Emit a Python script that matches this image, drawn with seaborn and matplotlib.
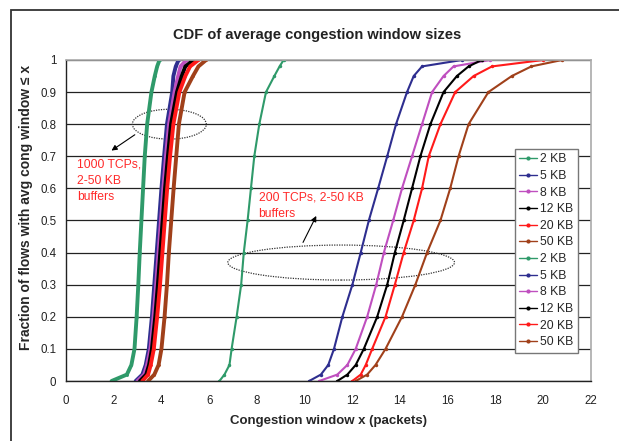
import matplotlib
matplotlib.use("Agg")
import matplotlib.pyplot as plt
from matplotlib.patches import Ellipse, Rectangle
import seaborn as sns
import pandas as pd

sns.set_theme(style="white")
plt.rcParams['font.family'] = ['Liberation Sans', 'DejaVu Sans']

labels = ["2 KB", "5 KB", "8 KB", "12 KB", "20 KB", "50 KB"]
colors = ["#2f9a6a", "#2e2e8f", "#bf4fbf", "#000000", "#ff1a1a", "#a0401a"]

# CDF levels (fraction of flows) at which quantiles were read
levels = [0, 0.02, 0.05, 0.1, 0.2, 0.3, 0.4, 0.5, 0.6, 0.7, 0.8, 0.9, 0.95, 0.98, 1.0]

# 1000 TCPs group
big_2kb = [1.91, 2.55, 2.74, 2.87, 2.96, 3.03, 3.09, 3.16, 3.23, 3.30, 3.40, 3.58, 3.72, 3.82, 3.92]
big_5kb = [2.92, 3.20, 3.34, 3.47, 3.60, 3.70, 3.80, 3.90, 4.00, 4.11, 4.23, 4.45, 4.50, 4.60, 4.72]
big_8kb = [3.00, 3.28, 3.40, 3.54, 3.67, 3.78, 3.88, 3.98, 4.08, 4.19, 4.32, 4.55, 4.70, 4.80, 5.05]
big_12kb = [3.10, 3.36, 3.48, 3.60, 3.74, 3.85, 3.95, 4.05, 4.15, 4.27, 4.40, 4.65, 4.85, 5.00, 5.35]
big_20kb = [3.20, 3.44, 3.55, 3.68, 3.82, 3.94, 4.04, 4.14, 4.24, 4.36, 4.50, 4.75, 5.00, 5.20, 5.55]
big_50kb = [3.44, 3.70, 3.88, 4.00, 4.13, 4.23, 4.31, 4.41, 4.51, 4.62, 4.73, 4.97, 5.32, 5.55, 5.87]

# 200 TCPs group
small_2kb = [6.43, 6.64, 6.85, 6.94, 7.15, 7.34, 7.45, 7.61, 7.75, 7.89, 8.10, 8.38, 8.73, 8.95, 9.12]
small_5kb = [10.19, 10.68, 10.99, 11.23, 11.58, 12.00, 12.35, 12.69, 13.08, 13.46, 13.83, 14.29, 14.57, 14.92, 16.59]
small_8kb = [10.61, 11.37, 11.79, 12.14, 12.62, 13.00, 13.32, 13.71, 14.08, 14.50, 14.92, 15.34, 15.82, 16.24, 17.77]
small_12kb = [11.37, 11.79, 12.14, 12.48, 13.04, 13.46, 13.78, 14.15, 14.50, 14.85, 15.27, 15.82, 16.38, 16.87, 17.42]
small_20kb = [12.00, 12.35, 12.56, 12.83, 13.39, 13.78, 14.15, 14.57, 14.92, 15.20, 15.69, 16.31, 17.08, 17.85, 20.00]
small_50kb = [12.14, 12.62, 12.97, 13.39, 14.08, 14.64, 15.13, 15.69, 16.10, 16.45, 16.87, 17.70, 18.68, 19.50, 20.79]

big = [big_2kb, big_5kb, big_8kb, big_12kb, big_20kb, big_50kb]
small = [small_2kb, small_5kb, small_8kb, small_12kb, small_20kb, small_50kb]

x_ticks = list(range(0, 23, 2))
y_ticks = [0, 0.1, 0.2, 0.3, 0.4, 0.5, 0.6, 0.7, 0.8, 0.9, 1]
y_ticklabels = ["0", "0.1", "0.2", "0.3", "0.4", "0.5", "0.6", "0.7", "0.8", "0.9", "1"]

fig = plt.figure(figsize=(6.19, 4.41), dpi=100)
ax = fig.add_axes([66 / 619, 1 - 381 / 441, (591 - 66) / 619, (381 - 60) / 441])

# outer frame (left and top visible)
fig.patches.append(Rectangle((10.5 / 619, -0.1), 1.2, 1 - 10 / 441 + 0.1,
                             transform=fig.transFigure, fill=False,
                             edgecolor="#333333", linewidth=1.3))

handles = []
for grp, lw, ms in ((big, 2.8, 2.0), (small, 1.5, 2.5)):
    for vals, lab, col in zip(grp, labels, colors):
        df = pd.DataFrame({"x": vals, "y": levels})
        sns.lineplot(data=df, x="x", y="y", sort=False, estimator=None,
                     color=col, linewidth=lw, marker="o", markersize=ms,
                     markeredgewidth=0, ax=ax, legend=False)
        handles.append(ax.lines[-1])

ax.set_xlim(0, 22)
ax.set_ylim(0, 1)
ax.set_xticks(x_ticks)
ax.set_xticklabels([str(t) for t in x_ticks], fontsize=8.3, color="#222222")
ax.set_yticks(y_ticks)
ax.set_yticklabels(y_ticklabels, fontsize=8.3, color="#222222")
ax.yaxis.grid(True, color="#222222", linewidth=0.9)
ax.xaxis.grid(False)
ax.set_axisbelow(True)
for s in ("top", "right"):
    ax.spines[s].set_color("#aaaaaa")
    ax.spines[s].set_linewidth(1.2)
for s in ("left", "bottom"):
    ax.spines[s].set_color("#222222")
    ax.spines[s].set_linewidth(1.0)
ax.tick_params(axis="x", direction="out", length=4, width=1, color="#222222", pad=6)
ax.tick_params(axis="y", direction="inout", length=6, width=1, color="#222222", pad=4)

ax.set_xlabel("Congestion window x (packets)", fontsize=9.5, fontweight="bold", labelpad=6)
ax.set_ylabel("Fraction of flows with avg cong window \u2264 x", fontsize=10,
              fontweight="bold")
ax.yaxis.set_label_coords(-0.062, 0.54)
fig.text(317 / 619, 1 - 35 / 441, "CDF of average congestion window sizes",
         ha="center", va="center", fontsize=10.5, fontweight="bold", color="#222222")

leg_labels = labels + labels
leg = ax.legend(handles, leg_labels, loc="upper left",
                bbox_to_anchor=((515 - 66) / 525, (381 - 149) / 321),
                fontsize=8.8, frameon=True, fancybox=False, framealpha=1,
                edgecolor="#777777", handlelength=1.45, handletextpad=0.25,
                labelspacing=0.38, borderpad=0.35, borderaxespad=0)
for h in leg.legend_handles:
    h.set_linewidth(1.0)
    h.set_markersize(3)

# annotations
ax.add_patch(Ellipse((4.33, 0.80), 3.1, 0.093, fill=False, linestyle=(0, (1, 1)),
                     edgecolor="#333333", linewidth=0.9))
ax.add_patch(Ellipse((11.53, 0.369), 9.5, 0.109, fill=False, linestyle=(0, (1, 1)),
                     edgecolor="#333333", linewidth=0.9))
ax.annotate("", xy=(1.81, 0.713), xytext=(2.98, 0.772),
            arrowprops=dict(arrowstyle="-|>", color="black", lw=0.8, mutation_scale=8))
ax.annotate("", xy=(10.54, 0.522), xytext=(9.88, 0.424),
            arrowprops=dict(arrowstyle="-|>", color="black", lw=0.8, mutation_scale=8))
ax.text(0.45, 0.692, "1000 TCPs,\n2-50 KB\nbuffers", color="#ff2a2a", fontsize=8.7,
        ha="left", va="top", linespacing=1.45)
ax.text(8.07, 0.590, "200 TCPs, 2-50 KB\nbuffers", color="#ff2a2a", fontsize=8.7,
        ha="left", va="top", linespacing=1.45)

fig.savefig("out.png", dpi=100)
